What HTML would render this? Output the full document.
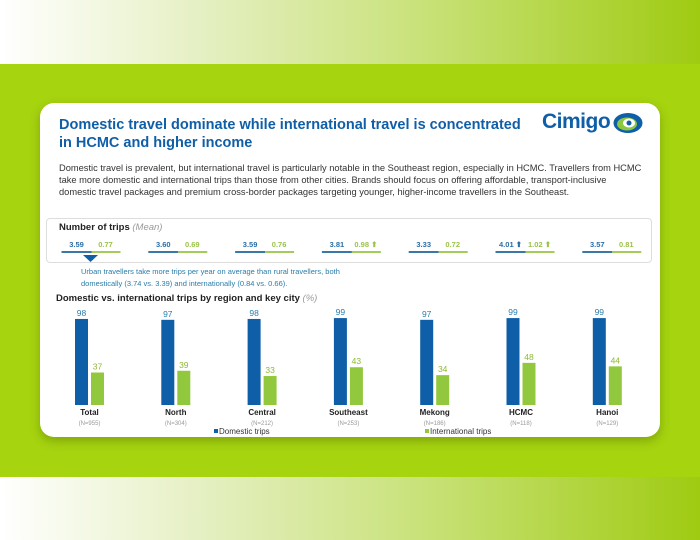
<!DOCTYPE html>
<html><head><meta charset="utf-8"><style>
*{margin:0;padding:0;box-sizing:border-box}
body{width:700px;height:540px;overflow:hidden;font-family:"Liberation Sans",sans-serif;position:relative;background:#a6d40f}
.band{position:absolute;left:0;width:700px;background:linear-gradient(90deg,#ffffff 0%,#e4efc0 30%,#c9e27a 60%,#9fcb12 100%)}
.card{position:absolute;left:40px;top:103px;width:620px;height:334px;background:#fff;border-radius:14px;box-shadow:0 4px 10px rgba(60,80,0,.35)}
.abs{position:absolute}
</style></head><body>
<div class="band" style="top:0;height:64px"></div>
<div class="band" style="top:477px;height:63px"></div>
<div class="card">
  <div class="abs" style="left:19px;top:13px;width:468px;font-size:14.5px;font-weight:bold;color:#0f5fa8;line-height:18px">Domestic travel dominate while international travel is concentrated in HCMC and higher income</div>
  <div class="abs" style="left:502px;top:7px;font-size:21px;font-weight:bold;color:#0f5fa8;letter-spacing:-0.5px">Cimigo</div>
  <svg class="abs" style="left:573px;top:9px" width="30" height="22"><ellipse cx="15" cy="11" rx="14.5" ry="10" fill="#0f5fa8"/><ellipse cx="14" cy="12" rx="10" ry="6.5" fill="#8dc63f"/><ellipse cx="16" cy="11" rx="6" ry="4.5" fill="#fff"/><circle cx="16" cy="11" r="2.5" fill="#0f5fa8"/></svg>
  <div class="abs" style="left:19px;top:60px;width:600px;font-size:9.3px;color:#333;line-height:11.8px;white-space:nowrap">Domestic travel is prevalent, but international travel is particularly notable in the Southeast region, especially in HCMC. Travellers from HCMC<br>take more domestic and international trips than those from other cities. Brands should focus on offering affordable, transport-inclusive<br>domestic travel packages and premium cross-border packages targeting younger, higher-income travellers in the Southeast.</div>
  <div class="abs" style="left:6px;top:115px;width:606px;height:45px;border:1px solid #ddd;border-radius:4px"></div>
  <div class="abs" style="left:19px;top:119px;font-size:9.5px;font-weight:bold;color:#222">Number of trips <span style="font-weight:normal;font-style:italic;color:#999">(Mean)</span></div>
  <svg class="abs" style="left:0;top:0" width="620" height="334" id="chart"></svg>
  <div class="abs" style="left:41px;top:163px;font-size:7.5px;color:#2a7cab;line-height:12px">Urban travellers take more trips per year on average than rural travellers, both<br>domestically (3.74 vs. 3.39) and internationally (0.84 vs. 0.66).</div>
  <div class="abs" style="left:16px;top:190px;font-size:9.5px;font-weight:bold;color:#222">Domestic vs. international trips by region and key city <span style="font-weight:normal;font-style:italic;color:#999">(%)</span></div>
</div>
<script>
const categories=["Total","North","Central","Southeast","Mekong","HCMC","Hanoi"];
const sampleSizes=["(N=955)","(N=304)","(N=212)","(N=253)","(N=186)","(N=118)","(N=129)"];
const domestic=[98,97,98,99,97,99,99];
const international=[37,39,33,43,34,48,44];
const tripsDomestic=["3.59","3.60","3.59","3.81","3.33","4.01","3.57"];
const tripsInternational=["0.77","0.69","0.76","0.98","0.72","1.02","0.81"];
const domUp=[false,false,false,false,false,true,false];
const intUp=[false,false,false,true,false,true,false];
const svg=document.getElementById('chart');const NS='http://www.w3.org/2000/svg';
function mk(t,a,txt){const e=document.createElementNS(NS,t);for(const k in a)e.setAttribute(k,a[k]);if(txt!=null)e.textContent=txt;svg.appendChild(e);return e;}
const step=86.3, x0=35, bw=13, base=302, scale=0.878;
const xBand=i=>x0+i*step;
const y=v=>base-v*scale;
categories.forEach((c,i)=>{
  const x=xBand(i);
  let b=mk('rect',{x:x,y:y(domestic[i]),width:bw,height:base-y(domestic[i]),fill:'#0f5fa8'});
  
  
  let g=mk('rect',{x:x+bw+3,y:y(international[i]),width:bw,height:base-y(international[i]),fill:'#92c83e'});
  
  
  let t=mk('text',{x:x+bw/2,y:y(domestic[i])-3,'text-anchor':'middle','font-size':'8.5','fill':'#2a7cab'},domestic[i]);
  
  
  let t2=mk('text',{x:x+bw*1.5+3,y:y(international[i])-3,'text-anchor':'middle','font-size':'8.5','fill':'#8dbb2e'},international[i]);
  
  
  let l=mk('text',{x:x+bw+1.5,y:312,'text-anchor':'middle','font-size':'8','font-weight':'bold','fill':'#222'},c);
  
  
  let n=mk('text',{x:x+bw+1.5,y:322,'text-anchor':'middle','font-size':'6','fill':'#999'},sampleSizes[i]);
  
  
  const tx=21.5+i*86.8;
  let d=mk('line',{x1:tx,y1:149,x2:tx+30,y2:149,stroke:'#3a78a8','stroke-width':2});
  
  
  let d2=mk('line',{x1:tx+30,y1:149,x2:tx+59,y2:149,stroke:'#a5cc5a','stroke-width':2});
  
  
  let v1=mk('text',{x:tx+15,y:144,'text-anchor':'middle','font-size':'7.5','font-weight':'bold','fill':'#2a6ea8'},tripsDomestic[i]+(domUp[i]?' ⬆':''));
  
  
  let v2=mk('text',{x:tx+44,y:144,'text-anchor':'middle','font-size':'7.5','font-weight':'bold','fill':'#9cc24a'},tripsInternational[i]+(intUp[i]?' ⬆':''));
  
  
});
let tri=mk('polygon',{points:'43,152 58,152 50.5,159',fill:'#0f5fa8'});


let lg1=mk('rect',{x:174,y:326,width:4,height:4,fill:'#0f5fa8'});


let lt1=mk('text',{x:179,y:331,'font-size':'8','fill':'#333'},'Domestic trips');


let lg2=mk('rect',{x:385,y:326,width:4,height:4,fill:'#92c83e'});


let lt2=mk('text',{x:390,y:331,'font-size':'8','fill':'#333'},'International trips');


</script>
</body></html>
